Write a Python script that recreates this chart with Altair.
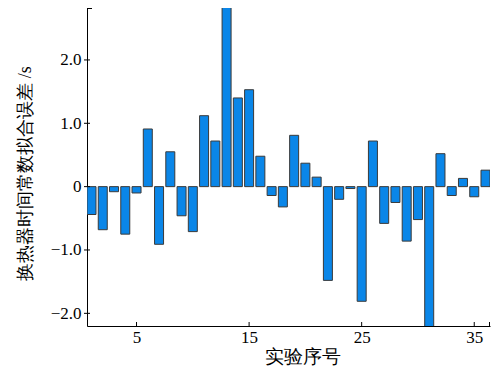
import altair as alt
import pandas as pd

# data
trial = list(range(1, 37))
error = [-0.44, -0.68, -0.08, -0.75, -0.10, 0.91, -0.91, 0.55, -0.46, -0.71,
         1.12, 0.72, 2.83, 1.40, 1.53, 0.48, -0.14, -0.32, 0.81, 0.37,
         0.15, -1.48, -0.20, -0.03, -1.81, 0.72, -0.58, -0.25, -0.86, -0.52,
         -2.30, 0.52, -0.14, 0.13, -0.16, 0.26]
x_ticks = [5, 15, 25, 35]
y_ticks = [-2.0, -1.0, 0.0, 1.0, 2.0]

W, H = 403, 318
x_dom = [0.6, 36.4]
y_dom = [-2.2, 2.82]
font = "Liberation Serif"

df = pd.DataFrame({"n": trial, "e": error})
xs = alt.Scale(domain=x_dom, nice=False, zero=False)
ys = alt.Scale(domain=y_dom, nice=False, zero=False)

bars = alt.Chart(df).transform_calculate(
    x0="datum.n - 0.4", x1="datum.n + 0.4", z="0"
).mark_bar(color="#0a86e8", stroke="#3a3a3a", strokeWidth=1, clip=True).encode(
    x=alt.X("x0:Q", scale=xs, axis=alt.Axis(
        values=x_ticks, labelPadding=3,
        title="实验序号", titleFontSize=19,
        titleX=215, titleY=30, titleBaseline="middle")),
    x2="x1:Q",
    y=alt.Y("e:Q", scale=ys, axis=alt.Axis(
        values=y_ticks, labelPadding=6,
        labelExpr="datum.value == 0 ? '0' : format(datum.value, '.1f')",
        title="换热器时间常数拟合误差 /s", titleFontSize=18,
        titleX=-62, titleY=165, titleBaseline="middle")),
    y2="z:Q",
)

yt = alt.Chart(pd.DataFrame({"v": y_ticks})).mark_rule(color="black", strokeWidth=1).encode(
    y=alt.Y("v:Q", scale=ys), x=alt.value(-3), x2=alt.value(3))
xt = alt.Chart(pd.DataFrame({"v": x_ticks})).mark_rule(color="black", strokeWidth=1).encode(
    x=alt.X("v:Q", scale=xs), y=alt.value(H), y2=alt.value(H - 4))
cap_top = alt.Chart(pd.DataFrame({"a": [0]})).mark_rule(color="black", strokeWidth=1).encode(
    x=alt.value(0), x2=alt.value(5), y=alt.value(0.5))
cap_right = alt.Chart(pd.DataFrame({"a": [0]})).mark_rule(color="black", strokeWidth=1).encode(
    x=alt.value(W - 0.5), y=alt.value(H), y2=alt.value(H - 4))

chart = alt.layer(bars, yt, xt, cap_top, cap_right).properties(
    width=W, height=H,
    autosize=alt.AutoSizeParams(type="none"),
    padding={"left": 79, "top": 0, "right": 5, "bottom": 40},
).configure(
    background="white", font=font
).configure_view(
    stroke="transparent", strokeWidth=0
).configure_axis(
    labelFont=font, titleFont=font, labelFontSize=17, labelColor="black",
    titleColor="black", titleFontWeight="normal", ticks=False, grid=False,
    domain=True, domainColor="black", domainWidth=1,
)

chart.save("out.html", embed_options={"renderer": "svg", "actions": False})
